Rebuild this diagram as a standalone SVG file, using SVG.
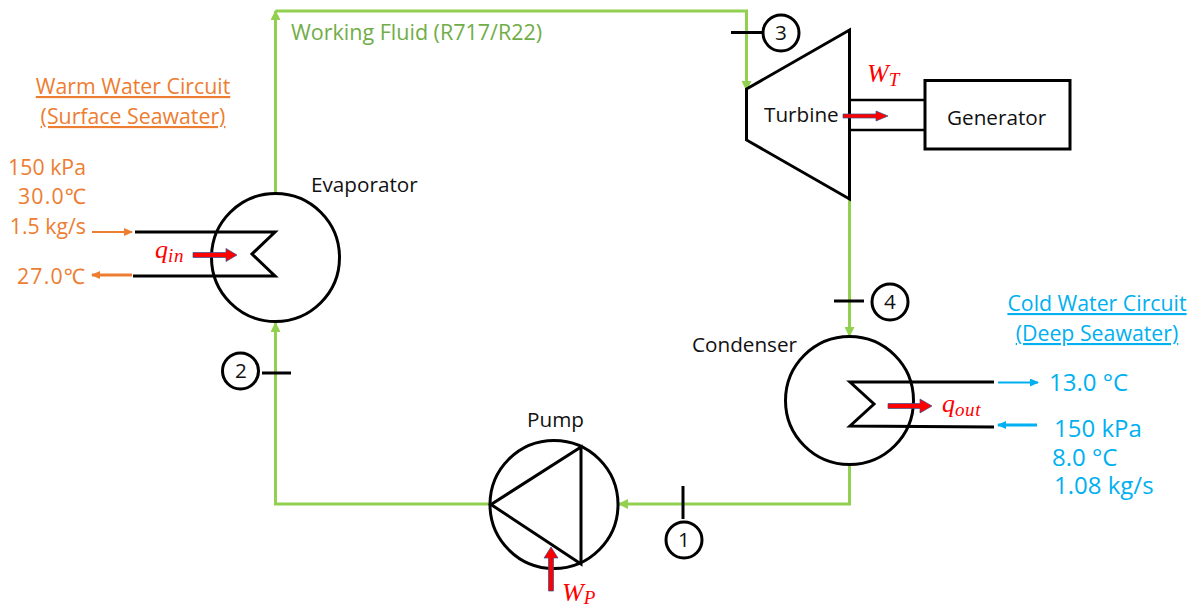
<svg xmlns="http://www.w3.org/2000/svg" width="1193" height="608" viewBox="0 0 1193 608">
<style>
.k{fill:none;stroke:#000;stroke-width:3;stroke-linejoin:miter}
.th{fill:none;stroke:#000;stroke-width:2.5}
.g{fill:none;stroke:#92d050;stroke-width:3}
text{font-family:"Open Sans","Noto Sans",sans-serif}
.t{font-size:20.7px;fill:#111}
.o{font-size:21.3px;fill:#ed7d31}
.h{font-size:21.300px;fill:#00b0f0}
.b{font-size:24px;fill:#00b0f0}
.w{font-size:21.500px;fill:#70ad47}
.n{font-size:20.700px;fill:#111;text-anchor:middle}
.m{font-family:"Liberation Serif",serif;font-style:italic;font-size:26px;fill:#f00}
.s{font-size:19px;letter-spacing:.6px}
.r{fill:#f00;stroke:#2f528f;stroke-width:.7}
</style>
<defs>
<marker id="ag" markerUnits="userSpaceOnUse" markerWidth="10" markerHeight="10" refX="9" refY="5" orient="auto"><path d="M0 0L10 5L0 10Z" fill="#92d050"/></marker>
<marker id="ao" markerUnits="userSpaceOnUse" markerWidth="9" markerHeight="8" refX="8" refY="4" orient="auto"><path d="M0 0L9 4L0 8Z" fill="#ed7d31"/></marker>
<marker id="ab" markerUnits="userSpaceOnUse" markerWidth="9" markerHeight="8" refX="8" refY="4" orient="auto"><path d="M0 0L9 4L0 8Z" fill="#00b0f0"/></marker>
</defs>
<g id="connectors">
<path class="g" d="M275.5 193V11" marker-end="url(#ag)"/>
<path class="g" d="M275.5 11H746.5V90" marker-end="url(#ag)"/>
<path class="g" d="M849.5 199V336" marker-end="url(#ag)"/>
<path class="g" d="M849.5 465V504H619" marker-end="url(#ag)"/>
<path class="g" d="M490 504H275.5V323" marker-end="url(#ag)"/>
<path d="M92 232H132" fill="none" stroke="#ed7d31" stroke-width="2" marker-end="url(#ao)"/>
<path d="M132 275H92" fill="none" stroke="#ed7d31" stroke-width="3" marker-end="url(#ao)"/>
<path d="M998 382.500H1038" fill="none" stroke="#00b0f0" stroke-width="2" marker-end="url(#ab)"/>
<path d="M1037 425H998" fill="none" stroke="#00b0f0" stroke-width="3" marker-end="url(#ab)"/>
</g>
<g id="evaporator">
<circle class="k" cx="275.500" cy="257.500" r="64"/>
<path class="k" d="M135 232H275L252 254L275 276H133"/>
<text class="t" x="311" y="192">Evaporator</text>
</g>
<g id="turbine">
<path class="k" d="M746.500 89L849.500 30V199L746.500 140Z"/>
<text class="t" x="764" y="122">Turbine</text>
</g>
<g id="generator">
<path class="th" d="M850 100H925M850 130H925"/>
<rect class="k" x="925" y="80.500" width="145" height="68.500"/>
<text class="t" x="947" y="125">Generator</text>
</g>
<g id="condenser">
<circle class="k" cx="849.500" cy="400.500" r="64"/>
<path class="k" d="M994 382H850L874 404L850 426L994 427"/>
<text class="t" x="692" y="352">Condenser</text>
</g>
<g id="pump">
<circle class="k" cx="554" cy="504.500" r="64"/>
<path class="k" d="M491 504.500L581 447V564Z"/>
<text class="t" x="527" y="427">Pump</text>
</g>
<g id="state-1"><path class="k" d="M683 486V519"/><circle class="k" cx="684" cy="540" r="18"/><text class="n" x="684" y="547">1</text></g>
<g id="state-2"><path class="k" d="M262 373H291"/><circle class="k" cx="240.500" cy="371" r="18"/><text class="n" x="241" y="378">2</text></g>
<g id="state-3"><path class="k" d="M731 32.500H763"/><circle class="k" cx="781" cy="33" r="18"/><text class="n" x="781" y="40">3</text></g>
<g id="state-4"><path class="k" d="M834 301H864"/><circle class="k" cx="890" cy="302" r="18"/><text class="n" x="890" y="309">4</text></g>
<g id="work-arrows">
<path class="r" d="M193 252.500H226V248.500L237 255L226 261.500V257.500H193Z"/>
<path class="r" d="M843 114H876V111L888 116L876 121V118H843Z"/>
<path class="r" d="M888 403.500H920V399L932 406L920 413V408.500H888Z"/>
<path class="r" d="M548.500 591V558H544L551 547L558 558H553.500V591Z"/>
<text class="m" x="155" y="258">q<tspan class="s" dy="4">in</tspan></text>
<text class="m" x="867" y="82">W<tspan class="s" dy="4">T</tspan></text>
<text class="m" x="942" y="412">q<tspan class="s" dy="4">out</tspan></text>
<text class="m" x="562" y="601">W<tspan class="s" dy="3">P</tspan></text>
</g>
<g id="labels">
<text class="w" x="291" y="40">Working Fluid (R717/R22)</text>
<text class="o" x="133" y="94" text-anchor="middle" text-decoration="underline">Warm Water Circuit</text>
<text class="o" x="133" y="124" text-anchor="middle" text-decoration="underline">(Surface Seawater)</text>
<text class="o" x="86" y="175" text-anchor="end">150 kPa</text>
<text class="o" x="86" y="204" text-anchor="end" textLength="68">30.0℃</text>
<text class="o" x="86" y="234" text-anchor="end">1.5 kg/s</text>
<text class="o" x="85" y="284" text-anchor="end" textLength="68">27.0℃</text>
<text class="h" x="1097" y="311" text-anchor="middle" text-decoration="underline">Cold Water Circuit</text>
<text class="h" x="1097" y="341" text-anchor="middle" text-decoration="underline">(Deep Seawater)</text>
<text class="b" x="1049" y="391">13.0 °C</text>
<text class="b" x="1054" y="437">150 kPa</text>
<text class="b" x="1052" y="466">8.0 °C</text>
<text class="b" x="1054" y="494">1.08 kg/s</text>
</g>
</svg>
